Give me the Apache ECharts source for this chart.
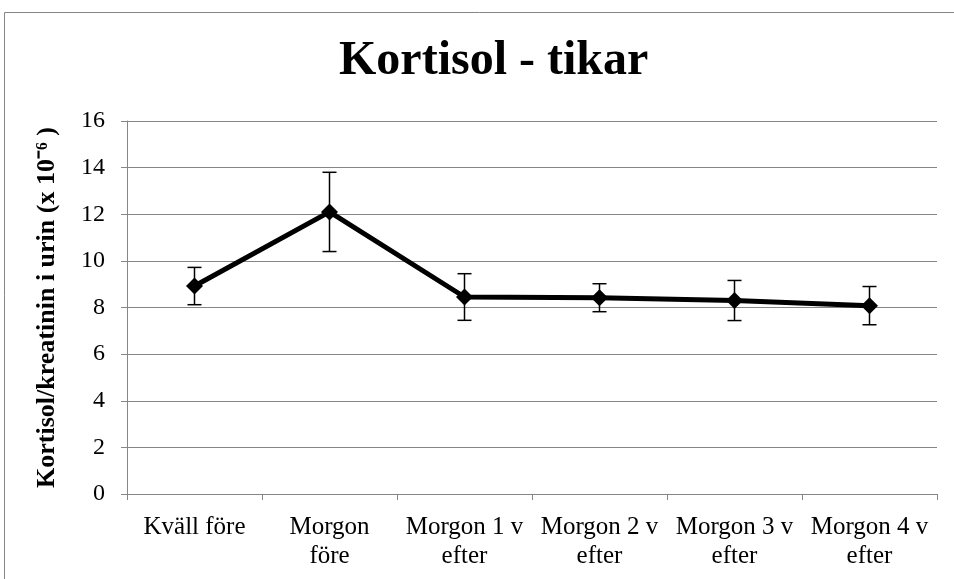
<!DOCTYPE html>
<html><head><meta charset="utf-8">
<script src="https://cdn.jsdelivr.net/npm/echarts@6/dist/echarts.min.js"></script>
<style>html,body{margin:0;padding:0;background:#fff}#c{width:954px;height:579px}</style>
</head><body><div id="c"></div>
<script>
var categories = ['Kväll före', 'Morgon\nföre', 'Morgon 1 v\nefter', 'Morgon 2 v\nefter', 'Morgon 3 v\nefter', 'Morgon 4 v\nefter'];
var values = [8.92, 12.1, 8.45, 8.42, 8.3, 8.08];
var errors = [0.8, 1.7, 1.0, 0.6, 0.86, 0.82];
var yTicks = [0, 2, 4, 6, 8, 10, 12, 14, 16];

var errData = values.map(function (v, i) { return [i, v - errors[i], v + errors[i]]; });
var font = '"Liberation Serif","Times New Roman",serif';

var chart = echarts.init(document.getElementById('c'));
chart.setOption({
  animation: false,
  title: {
    text: 'Kortisol - tikar', left: 334, top: 33,
    textStyle: { fontFamily: font, fontWeight: 'bold', fontSize: 48, color: '#000' }
  },
  grid: { left: 127, right: 17, top: 121, bottom: 85 },
  graphic: [
    { type: 'line', shape: { x1: 4.5, y1: 12.5, x2: 954, y2: 12.5 }, style: { stroke: '#868686', lineWidth: 1 } },
    { type: 'line', shape: { x1: 4.5, y1: 12.5, x2: 4.5, y2: 579 }, style: { stroke: '#868686', lineWidth: 1 } }
  ],
  xAxis: {
    type: 'category', data: categories, boundaryGap: true,
    axisLine: { lineStyle: { color: '#868686', width: 1 } },
    axisTick: { show: true, length: 6, inside: false, lineStyle: { color: '#868686' } },
    axisLabel: { fontFamily: font, fontSize: 25, color: '#000', margin: 19, lineHeight: 29, interval: 0 }
  },
  yAxis: {
    type: 'value', min: 0, max: 16, interval: 2,
    name: 'Kortisol/kreatinin i urin (x 10⁻⁶ )', nameLocation: 'middle', nameGap: 67, nameRotate: 90,
    nameTextStyle: { fontFamily: font, fontWeight: 'bold', fontSize: 26, color: '#000' },
    axisLine: { show: true, lineStyle: { color: '#868686', width: 1 } },
    axisTick: { show: true, length: 6, lineStyle: { color: '#868686' } },
    splitLine: { lineStyle: { color: '#868686', width: 1 } },
    axisLabel: { fontFamily: font, fontSize: 24, color: '#000', margin: 22,
      formatter: function (v) { return yTicks.indexOf(v) >= 0 ? String(v) : ''; } }
  },
  series: [
    {
      type: 'line', data: values, symbol: 'diamond', symbolSize: 17,
      lineStyle: { color: '#000', width: 5 }, itemStyle: { color: '#000' }, z: 3
    },
    {
      type: 'custom', data: errData, z: 4,
      renderItem: function (params, api) {
        var x = api.value(0);
        var lo = api.coord([x, api.value(1)]);
        var hi = api.coord([x, api.value(2)]);
        var w = 7;
        var st = { stroke: '#000', lineWidth: 1.5 };
        return { type: 'group', children: [
          { type: 'line', shape: { x1: lo[0], y1: lo[1], x2: hi[0], y2: hi[1] }, style: st },
          { type: 'line', shape: { x1: lo[0] - w, y1: lo[1], x2: lo[0] + w, y2: lo[1] }, style: st },
          { type: 'line', shape: { x1: hi[0] - w, y1: hi[1], x2: hi[0] + w, y2: hi[1] }, style: st }
        ] };
      }
    }
  ]
});
</script></body></html>
